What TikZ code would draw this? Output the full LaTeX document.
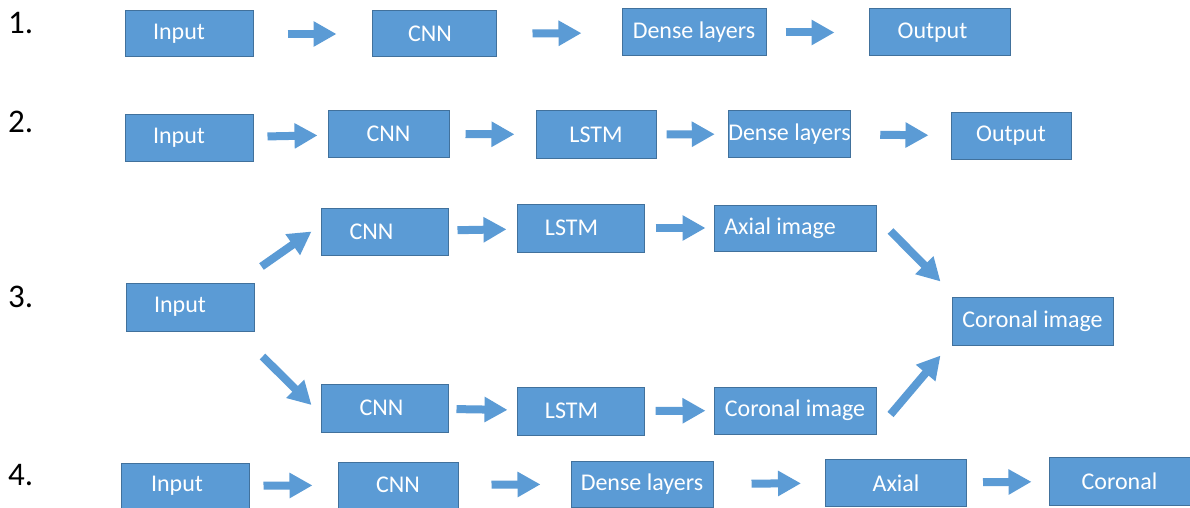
\documentclass[tikz,border=0pt]{standalone}
\usepackage{fontspec}
\setmainfont{Carlito}
\usepackage{tikz}
\usetikzlibrary{arrows.meta}

\definecolor{boxfill}{HTML}{5B9BD5}
\definecolor{boxline}{HTML}{41719C}

% moves a box text to the left by half the given length
\newcommand{\lefter}[1]{\hspace*{-#1}}

\tikzset{
  blk/.style={draw=boxline, line width=1pt, fill=boxfill, text=white,
    inner sep=0pt, font=\fontsize{24}{28}\selectfont},
  flow/.style={draw=boxfill, line width=8pt,
    -{Triangle[width=24pt,length=23pt]}},
  lbl/.style={anchor=west, inner sep=0pt, font=\fontsize{33}{38}\selectfont}
}

\begin{document}
\begin{tikzpicture}[x=1pt, y=-1pt]
    \clip (0,0) rectangle (1190,508);
    \fill[white] (0,0) rectangle (1190,508);
    % row numbers
    \node[lbl] (n1) at (8,23) {1.};
    \node[lbl] (n2) at (8,122) {2.};
    \node[lbl] (n3) at (8,297) {3.};
    \node[lbl] (n4) at (8,475) {4.};
    % 1.
    \node[blk, minimum width=128pt, minimum height=46pt] (in1) at (189,34) {\lefter{20pt}Input};
    \node[blk, minimum width=124pt, minimum height=46pt] (cnn1) at (434,34) {\lefter{8pt}CNN};
    \node[blk, minimum width=144pt, minimum height=47pt] (dense1) at (694,32.5) {Dense layers};
    \node[blk, minimum width=141pt, minimum height=47pt] (out1) at (939.5,32.5) {\lefter{14pt}Output};
    \draw[flow, shorten <=34pt, shorten >=35pt] (in1) -- (cnn1);
    \draw[flow, shorten <=36pt, shorten >=40pt] (cnn1) -- (dense1);
    \draw[flow, shorten <=19pt, shorten >=34pt] (dense1) -- (out1);
    % 2.
    \node[blk, minimum width=128pt, minimum height=46pt] (in2) at (189,138) {\lefter{20pt}Input};
    \node[blk, minimum width=121pt, minimum height=46pt] (cnn2) at (388.5,134) {CNN};
    \node[blk, minimum width=120pt, minimum height=47pt] (lstm2) at (596,134.5) {LSTM};
    \node[blk, minimum width=121pt, minimum height=46pt] (dense2) at (789.5,134) {Dense layers};
    \node[blk, minimum width=120pt, minimum height=46pt] (out2) at (1011,136) {Output};
    \draw[flow, shorten <=14pt, shorten >=10pt] (in2) -- (cnn2);
    \draw[flow, shorten <=16pt, shorten >=21pt] (cnn2) -- (lstm2);
    \draw[flow, shorten <=10pt, shorten >=13pt] (lstm2) -- (dense2);
    \draw[flow, shorten <=29pt, shorten >=22pt] (dense2) -- (out2);
    % 3.
    \node[blk, minimum width=128pt, minimum height=48pt] (in3) at (190,307) {\lefter{20pt}Input};
    \node[blk, minimum width=127pt, minimum height=47pt] (cnn3a) at (384.5,231.5) {\lefter{26pt}CNN};
    \node[blk, minimum width=127pt, minimum height=48pt] (lstm3a) at (580.5,228) {\lefter{18pt}LSTM};
    \node[blk, minimum width=162pt, minimum height=46pt] (axial3) at (795,228) {\lefter{30pt}Axial image};
    \node[blk, minimum width=127pt, minimum height=48pt] (cnn3b) at (384.5,408) {\lefter{6pt}CNN};
    \node[blk, minimum width=127pt, minimum height=48pt] (lstm3b) at (580.5,411) {\lefter{18pt}LSTM};
    \node[blk, minimum width=162pt, minimum height=47pt] (cor3b) at (795,410.5) {Coronal image};
    \node[blk, minimum width=161pt, minimum height=48pt] (coronal3) at (1032.5,321) {Coronal image};
    \draw[flow] ([shift={(7,-16)}]in3.north east) -- ([shift={(-9,0)}]cnn3a.west);
    \draw[flow] ([shift={(8,25)}]in3.south east) -- ([shift={(-9,-3)}]cnn3b.west);
    \draw[flow, shorten <=9pt, shorten >=10pt] (cnn3a) -- (lstm3a);
    \draw[flow, shorten <=11pt, shorten >=8pt] (lstm3a) -- (axial3);
    \draw[flow, shorten <=8pt, shorten >=9pt] (cnn3b) -- (lstm3b);
    \draw[flow, shorten <=11pt, shorten >=8pt] (lstm3b) -- (cor3b);
    \draw[flow] ([shift={(14,3)}]axial3.east) -- ([shift={(-11,-15)}]coronal3.north west);
    \draw[flow] ([shift={(14,4)}]cor3b.east) -- ([shift={(-11,10)}]coronal3.south west);
    % 4.
    \node[blk, minimum width=128pt, minimum height=46pt] (in4) at (185,486) {\lefter{16pt}Input};
    \node[blk, minimum width=120pt, minimum height=46pt] (cnn4) at (398,485) {CNN};
    \node[blk, minimum width=142pt, minimum height=46pt] (dense4) at (642,484) {Dense layers};
    \node[blk, minimum width=141pt, minimum height=47pt] (axial4) at (896,483) {Axial};
    \node[blk, minimum width=141pt, minimum height=48pt] (coronal4) at (1119.5,481) {Coronal};
    \draw[flow, shorten <=14pt, shorten >=25pt] (in4) -- (cnn4);
    \draw[flow, shorten <=33pt, shorten >=30pt] (cnn4) -- (dense4);
    \draw[flow, shorten <=38pt, shorten >=24pt] (dense4) -- (axial4);
    \draw[flow, shorten <=16pt, shorten >=17pt] (axial4) -- (coronal4);
\end{tikzpicture}
\end{document}
